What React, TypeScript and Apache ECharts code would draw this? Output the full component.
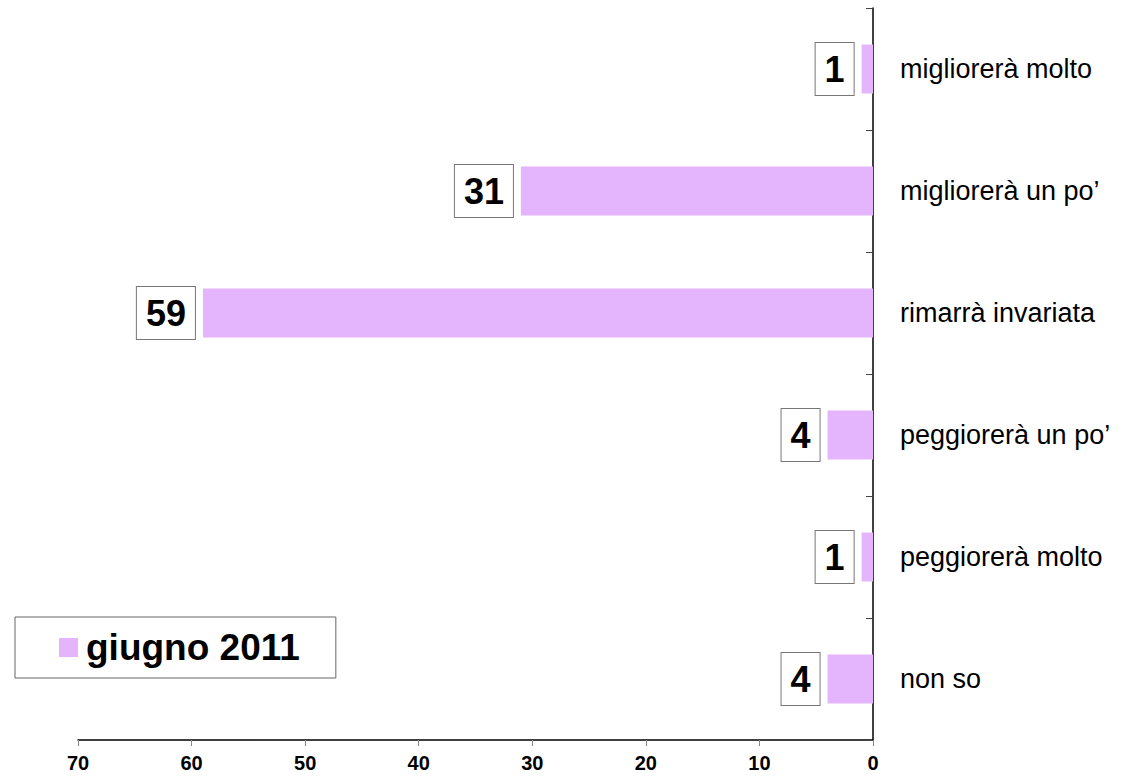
import React, { useEffect, useRef } from "react";
import * as echarts from "echarts";

const categories = [
  "migliorerà molto",
  "migliorerà un po’",
  "rimarrà invariata",
  "peggiorerà un po’",
  "peggiorerà molto",
  "non so",
];
const values = [1, 31, 59, 4, 1, 4];
const seriesName = "giugno 2011";
const FONT = "'Liberation Sans', Arial, sans-serif";

export default function App() {
  const ref = useRef<HTMLDivElement>(null);
  useEffect(() => {
    const chart = echarts.init(ref.current!, null, { renderer: "svg" });
    chart.setOption({
      animation: false,
      textStyle: { fontFamily: FONT },
      grid: { left: 78, right: 267, top: 8, bottom: 36, containLabel: false },
      legend: {
        show: true,
        data: [seriesName],
        left: 15,
        top: 617,
        orient: "horizontal",
        icon: "rect",
        itemWidth: 19,
        itemHeight: 19,
        padding: [12, 36, 12, 44],
        borderColor: "#666",
        borderWidth: 1,
        backgroundColor: "#fff",
        textStyle: {
          fontSize: 37,
          fontWeight: "bold",
          color: "#000",
          fontFamily: FONT,
          lineHeight: 37,
          padding: [0, 0, 0, 3],
        },
      },
      xAxis: {
        type: "value",
        inverse: true,
        min: 0,
        max: 70,
        interval: 10,
        splitLine: { show: false },
        axisLine: { show: true, lineStyle: { color: "#000", width: 1.5 } },
        axisTick: { show: true, length: 6, lineStyle: { color: "#888" } },
        axisLabel: { fontSize: 20, fontWeight: "bold", color: "#000", margin: 13, fontFamily: FONT },
      },
      yAxis: {
        type: "category",
        data: categories,
        inverse: true,
        position: "right",
        axisLine: { show: true, lineStyle: { color: "#000", width: 1.5 } },
        axisTick: { show: true, inside: true, length: 7, lineStyle: { color: "#444" } },
        axisLabel: { fontSize: 27, color: "#000", margin: 27, fontFamily: FONT },
      },
      series: [
        {
          name: seriesName,
          type: "bar",
          data: values,
          barWidth: 49,
          itemStyle: { color: "#E4B4FC" },
          label: {
            show: true,
            position: "left",
            distance: 8,
            formatter: "{c}",
            fontSize: 36,
            lineHeight: 36,
            fontWeight: "bold",
            color: "#000",
            fontFamily: FONT,
            backgroundColor: "#fff",
            borderColor: "#777",
            borderWidth: 1,
            padding: [8, 9, 8, 9],
          },
        },
      ],
    });
    return () => chart.dispose();
  }, []);
  return <div ref={ref} style={{ width: 1140, height: 776, position: "absolute", left: 0, top: 0 }} />;
}
